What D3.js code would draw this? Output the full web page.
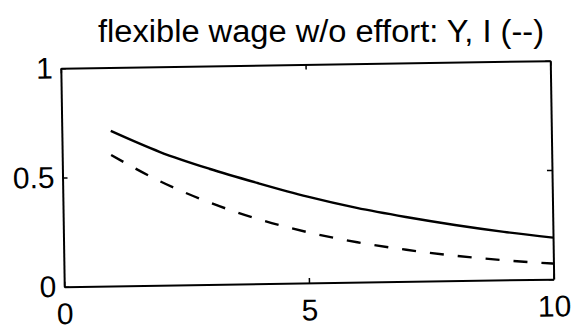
<!DOCTYPE html>
<html>
<head>
<meta charset="utf-8">
<script src="https://cdn.jsdelivr.net/npm/d3@7"></script>
<style>
  body { margin: 0; background: #fff; }
  svg { display: block; }
  text { font-family: "Liberation Sans", Arial, Helvetica, sans-serif; fill: #000; }
</style>
</head>
<body>
<svg id="chart" width="577" height="329"></svg>
<script>
// chart values
const titleText = "flexible wage w/o effort: Y, I (--)";
const xTicks = [0, 5, 10];
const yTicks = [0, 0.5, 1];
const periods = [1, 2, 3, 4, 5, 6, 7, 8, 9, 10];
const outputY = [0.71, 0.61, 0.53, 0.46, 0.395, 0.34, 0.295, 0.255, 0.22, 0.19];
const investI = [0.60, 0.475, 0.375, 0.295, 0.232, 0.183, 0.145, 0.114, 0.09, 0.071];

const W = 577, H = 329;
const margin = { top: 64.5, right: 25, bottom: 46, left: 62.5 };
const innerW = W - margin.left - margin.right;
const innerH = H - margin.top - margin.bottom;

const svg = d3.select("#chart");

// title sits level, the plot itself is slightly tilted like the scan
svg.append("text")
    .attr("x", 321)
    .attr("y", 42)
    .attr("text-anchor", "middle")
    .attr("font-size", 31)
    .attr("textLength", 446)
    .attr("lengthAdjust", "spacingAndGlyphs")
    .text(titleText);

const cx = margin.left + innerW / 2;
const cy = margin.top + innerH / 2;
const g = svg.append("g")
    .attr("transform", `rotate(-0.9, ${cx}, ${cy}) translate(${margin.left},${margin.top})`);

const x = d3.scaleLinear().domain([0, 10]).range([0, innerW]);
const y = d3.scaleLinear().domain([0, 1]).range([innerH, 0]);

function styleAxis(sel) {
    sel.select(".domain").attr("stroke", "#000").attr("stroke-width", 2);
    sel.selectAll(".tick line").attr("stroke", "#000").attr("stroke-width", 1.5);
    sel.selectAll(".tick text")
        .attr("font-size", 30)
        .attr("font-family", "Liberation Sans, Arial, sans-serif")
        .attr("fill", "#000");
}

g.append("g")
    .attr("transform", `translate(0,${innerH})`)
    .call(d3.axisBottom(x).tickValues(xTicks).tickFormat(d3.format("d"))
        .tickSizeInner(-5).tickSizeOuter(0).tickPadding(16))
    .call(styleAxis);

g.append("g")
    .call(d3.axisTop(x).tickValues(xTicks).tickFormat("")
        .tickSizeInner(-5).tickSizeOuter(0))
    .call(styleAxis);

g.append("g")
    .call(d3.axisLeft(y).tickValues(yTicks).tickFormat(d => d === 0.5 ? "0.5" : d3.format("d")(d))
        .tickSizeInner(-5).tickSizeOuter(0).tickPadding(8))
    .call(styleAxis);

g.append("g")
    .attr("transform", `translate(${innerW},0)`)
    .call(d3.axisRight(y).tickValues(yTicks).tickFormat("")
        .tickSizeInner(-5).tickSizeOuter(0))
    .call(styleAxis);

const line = d3.line()
    .x((d, i) => x(periods[i]))
    .y(d => y(d))
    .curve(d3.curveMonotoneX);

g.append("path")
    .datum(outputY)
    .attr("d", line)
    .attr("fill", "none")
    .attr("stroke", "#000")
    .attr("stroke-width", 2.4);

g.append("path")
    .datum(investI)
    .attr("d", line)
    .attr("fill", "none")
    .attr("stroke", "#000")
    .attr("stroke-width", 2.4)
    .attr("stroke-dasharray", "14,14");
</script>
</body>
</html>
